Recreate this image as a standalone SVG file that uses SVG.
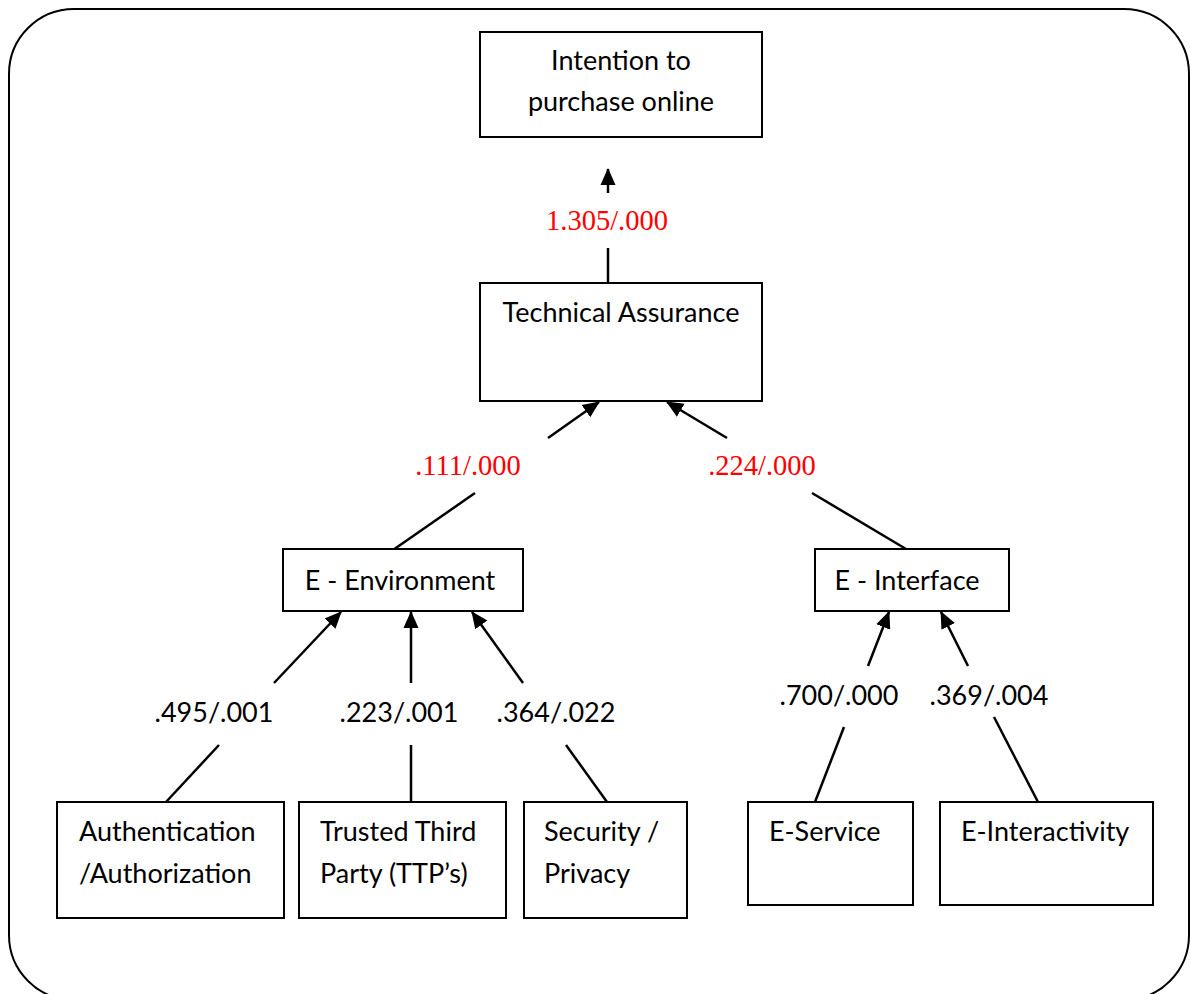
<svg xmlns="http://www.w3.org/2000/svg" width="1190" height="994" viewBox="0 0 1190 994">
<style>
.box{fill:#fff;stroke:#000;stroke-width:2}
.t{font-family:Lato,"Open Sans","Liberation Sans",sans-serif;font-size:27px;fill:#000}
.c{text-anchor:middle}
.r{font-family:"Liberation Serif","Times New Roman",serif;font-size:28.5px;fill:#ff0000;text-anchor:middle}
.ln{stroke:#000;stroke-width:2.5;fill:none}
</style>
<defs>
<marker id="ah" markerUnits="userSpaceOnUse" markerWidth="17" markerHeight="17" viewBox="0 0 17 17" refX="16" refY="8.5" orient="auto">
<path d="M0,1 L17,8.5 L0,16 Z" fill="#000"/>
</marker>
</defs>
<rect x="9" y="9" width="1180" height="991" rx="65" ry="65" fill="#fff" stroke="#000" stroke-width="2"/>

<g id="connectors">
<line class="ln" x1="608" y1="193" x2="608" y2="169" marker-end="url(#ah)"/>
<line class="ln" x1="608" y1="283" x2="608" y2="248"/>
<text class="r" x="607" y="230">1.305/.000</text>

<line class="ln" x1="393" y1="550" x2="475" y2="493"/>
<line class="ln" x1="548" y1="438" x2="599" y2="402" marker-end="url(#ah)"/>
<text class="r" x="468" y="475">.111/.000</text>

<line class="ln" x1="906" y1="549" x2="812" y2="493"/>
<line class="ln" x1="727" y1="438" x2="667" y2="402" marker-end="url(#ah)"/>
<text class="r" x="762" y="475">.224/.000</text>

<line class="ln" x1="166" y1="802" x2="219" y2="745"/>
<line class="ln" x1="274" y1="683" x2="341" y2="612" marker-end="url(#ah)"/>
<text class="t c" x="214" y="722">.495/.001</text>

<line class="ln" x1="411" y1="802" x2="411" y2="745"/>
<line class="ln" x1="411" y1="683" x2="411" y2="612" marker-end="url(#ah)"/>
<text class="t c" x="399" y="722">.223/.001</text>

<line class="ln" x1="607" y1="802" x2="566" y2="745"/>
<line class="ln" x1="523" y1="683" x2="472" y2="612" marker-end="url(#ah)"/>
<text class="t c" x="556" y="722">.364/.022</text>

<line class="ln" x1="815" y1="802" x2="844" y2="727"/>
<line class="ln" x1="868" y1="666" x2="889" y2="612" marker-end="url(#ah)"/>
<text class="t c" x="839" y="705">.700/.000</text>

<line class="ln" x1="1038" y1="802" x2="994" y2="717"/>
<line class="ln" x1="968" y1="666" x2="941" y2="612" marker-end="url(#ah)"/>
<text class="t c" x="989" y="705">.369/.004</text>
</g>

<g id="intention">
<rect class="box" x="480" y="32" width="282" height="105"/>
<text class="t c" x="621" y="70">Intention to</text>
<text class="t c" x="621" y="111">purchase online</text>
</g>
<g id="technical-assurance">
<rect class="box" x="480" y="283" width="282" height="118"/>
<text class="t c" x="621" y="322">Technical Assurance</text>
</g>
<g id="e-environment">
<rect class="box" x="283" y="549" width="240" height="62"/>
<text class="t c" x="400" y="590">E - Environment</text>
</g>
<g id="e-interface">
<rect class="box" x="815" y="549" width="194" height="62"/>
<text class="t c" x="907" y="590">E - Interface</text>
</g>
<g id="authentication">
<rect class="box" x="57" y="802" width="227" height="116"/>
<text class="t" x="79" y="841">Authentication</text>
<text class="t" x="79" y="883">/Authorization</text>
</g>
<g id="ttp">
<rect class="box" x="299" y="802" width="207" height="116"/>
<text class="t" x="320" y="841">Trusted Third</text>
<text class="t" x="320" y="883">Party (TTP’s)</text>
</g>
<g id="security">
<rect class="box" x="524" y="802" width="163" height="116"/>
<text class="t" x="544" y="841">Security /</text>
<text class="t" x="544" y="883">Privacy</text>
</g>
<g id="e-service">
<rect class="box" x="748" y="802" width="165" height="103"/>
<text class="t" x="769" y="841">E-Service</text>
</g>
<g id="e-interactivity">
<rect class="box" x="940" y="802" width="213" height="103"/>
<text class="t" x="961" y="841">E-Interactivity</text>
</g>
</svg>
